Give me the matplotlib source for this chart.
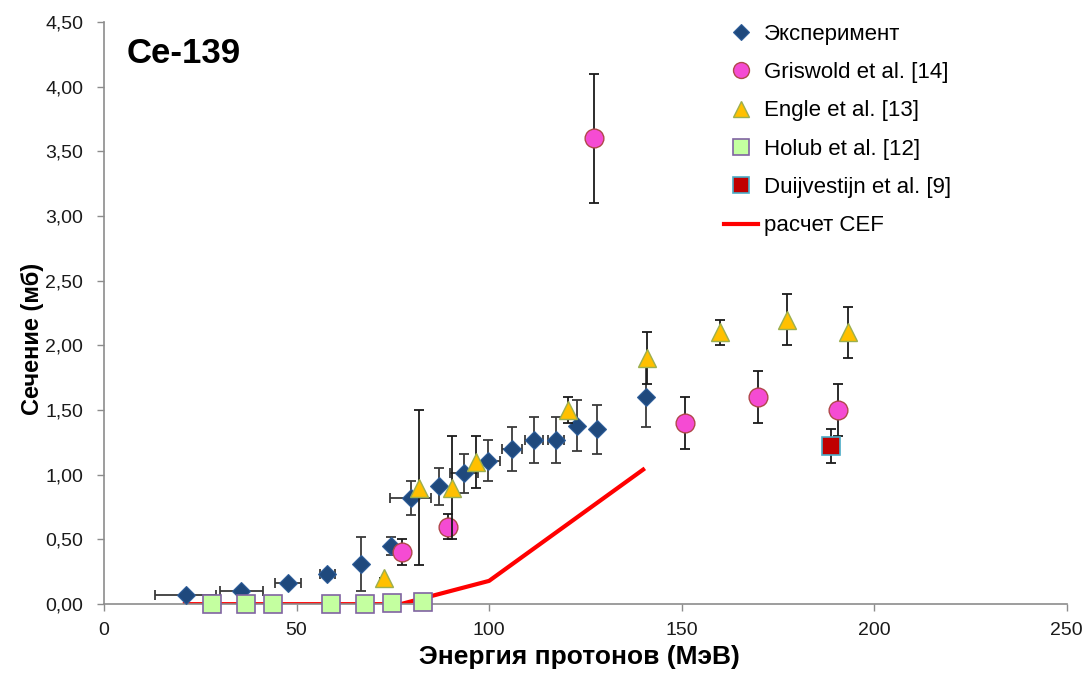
import matplotlib
matplotlib.use("Agg")
import matplotlib.pyplot as plt
from matplotlib.ticker import FuncFormatter

plt.rcParams['font.family'] = ['Liberation Sans', 'DejaVu Sans']

# Эксперимент
exp_x = [21.2, 35.7, 47.8, 58.0, 66.8, 74.6, 79.7, 86.9, 93.5, 99.8, 106.0, 111.7, 117.4, 122.9, 128.1, 140.7]
exp_y = [0.07, 0.10, 0.16, 0.23, 0.31, 0.45, 0.82, 0.91, 1.01, 1.11, 1.20, 1.27, 1.27, 1.38, 1.35, 1.60]
exp_yerr = [0, 0, 0, 0, 0.21, 0.07, 0.13, 0.14, 0.15, 0.16, 0.17, 0.18, 0.18, 0.20, 0.19, 0.23]
exp_xerr = [8.0, 5.7, 3.4, 2.0, 0, 0, 5.3, 0, 3.6, 3.0, 2.6, 2.4, 2.1, 0, 0, 0]

# Griswold et al. [14]
gris_x = [77.5, 89.4, 127.2, 150.8, 169.7, 190.7]
gris_y = [0.40, 0.60, 3.60, 1.40, 1.60, 1.50]
gris_err = [0.1, 0.1, 0.5, 0.2, 0.2, 0.2]

# Engle et al. [13]
engle_x = [72.6, 81.7, 90.5, 96.6, 120.4, 141.1, 159.9, 177.3, 193.3]
engle_y = [0.20, 0.90, 0.90, 1.10, 1.50, 1.90, 2.10, 2.20, 2.10]
engle_err = [0, 0.6, 0.4, 0.2, 0.1, 0.2, 0.1, 0.2, 0.2]

# Holub et al. [12]
holub_x = [28.1, 37.0, 44.0, 59.0, 67.9, 74.9, 82.8]
holub_y = [0.0, 0.0, 0.0, 0.0, 0.0, 0.01, 0.015]

# Duijvestijn et al. [9]
duij_x = [188.9]
duij_y = [1.22]
duij_err = [0.13]

# расчет CEF
cef_x = [21, 77, 100, 140]
cef_y = [0.0, 0.0, 0.18, 1.04]

fig = plt.figure(figsize=(10.83, 6.85), dpi=100)
ax = fig.add_axes([0.096, 0.118, 0.889, 0.850])

ekw = dict(ls='none', elinewidth=1.3, capsize=3.5, capthick=1.3, clip_on=False)
mkw = dict(ls='none', clip_on=False)

ax.plot(cef_x, cef_y, color='#FF0000', lw=3, zorder=2, label='расчет CEF')

ax.errorbar(exp_x, exp_y, yerr=exp_yerr, xerr=exp_xerr, ecolor='#3a3a3a', zorder=3, **ekw)
ax.plot(exp_x, exp_y, marker='D', ms=9.5, mfc='#1F497D', mec='#2E5E9A', mew=0.8,
        zorder=4, label='Эксперимент', **mkw)

ax.errorbar(gris_x, gris_y, yerr=gris_err, ecolor='#1a1a1a', zorder=5, **ekw)
ax.plot(gris_x, gris_y, marker='o', ms=13.5, mfc='#F54BD3', mec='#B0484A', mew=1,
        zorder=6, label='Griswold et al. [14]', **mkw)

ax.errorbar(engle_x, engle_y, yerr=engle_err, ecolor='#1a1a1a', zorder=7, **ekw)
ax.plot(engle_x, engle_y, marker='^', ms=13.5, mfc='#FFC000', mec='#9BAF4F', mew=1,
        zorder=8, label='Engle et al. [13]', **mkw)

ax.plot(holub_x, holub_y, marker='s', ms=13, mfc='#C4FFA0', mec='#8064A2', mew=1.2,
        zorder=9, label='Holub et al. [12]', **mkw)

ax.errorbar(duij_x, duij_y, yerr=duij_err, ecolor='#1a1a1a', zorder=10, **ekw)
ax.plot(duij_x, duij_y, marker='s', ms=13, mfc='#C00000', mec='#4BACC6', mew=1.2,
        zorder=11, label='Duijvestijn et al. [9]', **mkw)

ax.set_xlim(0, 250)
ax.set_ylim(0, 4.5)
ax.set_xticks(range(0, 251, 50))
ax.set_yticks([i * 0.5 for i in range(10)])
ax.yaxis.set_major_formatter(FuncFormatter(lambda v, p: f"{v:.2f}".replace('.', ',')))

for s in ['top', 'right']:
    ax.spines[s].set_visible(False)
for s in ['left', 'bottom']:
    ax.spines[s].set_color('#8c8c8c')
    ax.spines[s].set_linewidth(1.2)
ax.tick_params(axis='both', colors='#8c8c8c', length=5, width=1, labelsize=14,
               labelcolor='#1a1a1a')
ax.tick_params(axis='x', pad=8)
ax.tick_params(axis='y', pad=10)

ax.set_xlabel('Энергия протонов (МэВ)', fontsize=19, fontweight='bold')
ax.xaxis.set_label_coords(0.494, -0.07)
ax.set_ylabel('Сечение (мб)', fontsize=17, fontweight='bold')
ax.yaxis.set_label_coords(-0.062, 0.455)

fig.text(0.117, 0.908, 'Ce-139', fontsize=25, fontweight='bold')

handles, labels = ax.get_legend_handles_labels()
order = [1, 2, 3, 4, 5, 0]
leg = ax.legend([handles[i] for i in order], [labels[i] for i in order],
                loc='upper left', bbox_to_anchor=(0.635, 1.012), frameon=False,
                fontsize=16, markerscale=0.85, handlelength=1.5, handletextpad=0.3,
                labelspacing=0.78, borderaxespad=0)

fig.savefig('out.png', dpi=100)
